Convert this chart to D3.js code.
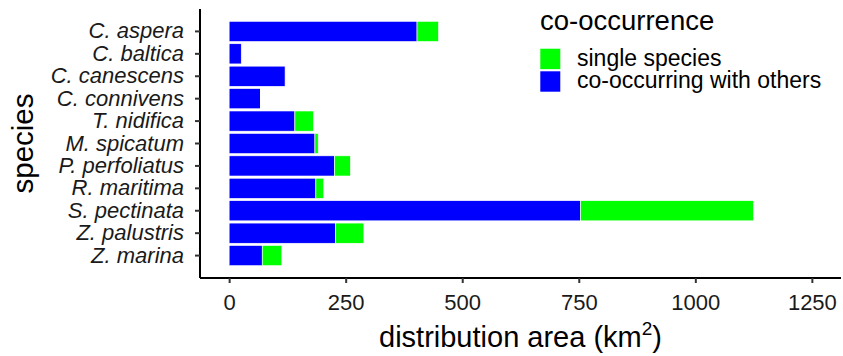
<!DOCTYPE html>
<html><head><meta charset="utf-8">
<script src="https://cdn.jsdelivr.net/npm/d3@7"></script>
<style>body{margin:0;background:#fff;} svg{display:block;}</style>
</head><body>
<svg id="c" width="843" height="356"></svg>
<script>
const species = ["C. aspera","C. baltica","C. canescens","C. connivens","T. nidifica","M. spicatum","P. perfoliatus","R. maritima","S. pectinata","Z. palustris","Z. marina"];
const coOccurring = [403, 26, 120, 67, 141, 184, 226, 186, 754, 228, 71];
const single = [46, 0, 0, 1, 40, 7, 34, 17, 371, 61, 42];
const xTicks = [0, 250, 500, 750, 1000, 1250];
const seriesNames = ["single species", "co-occurring with others"];
const seriesColors = ["#00FF00", "#0000FF"];

const FONT = "'Liberation Sans', Arial, sans-serif";
const svg = d3.select("#c");
const pLeft = 200, pRight = 841, pTop = 9, pBottom = 278;
const x = d3.scaleLinear().domain([-62.5, 1312.5]).range([pLeft, pRight]);
const y = d3.scaleBand().domain(species).range([pTop, pBottom]).paddingInner(0.1).paddingOuter(0.55);

const rows = species.map((s, i) => ({s, co: coOccurring[i], si: single[i]}));
const g = svg.append("g");
g.selectAll("rect.co").data(rows).join("rect").attr("class", "co")
  .attr("x", x(0)).attr("y", d => y(d.s)).attr("height", y.bandwidth())
  .attr("width", d => x(d.co) - x(0)).attr("fill", seriesColors[1])
  .attr("stroke", "#fff").attr("stroke-width", 0.6);
g.selectAll("rect.si").data(rows.filter(d => d.si > 0)).join("rect").attr("class", "si")
  .attr("x", d => x(d.co)).attr("y", d => y(d.s)).attr("height", y.bandwidth())
  .attr("width", d => x(d.co + d.si) - x(d.co)).attr("fill", seriesColors[0])
  .attr("stroke", "#fff").attr("stroke-width", 0.6);

// axes
const xa = svg.append("g").attr("transform", `translate(0,${pBottom})`)
  .call(d3.axisBottom(x).tickValues(xTicks).tickSize(5).tickPadding(11).tickFormat(d3.format("d")));
xa.select(".domain").attr("d", `M${pLeft},0H${pRight}`).attr("stroke", "#000").attr("stroke-width", 2);
xa.selectAll(".tick line").attr("stroke", "#333").attr("stroke-width", 2);
xa.selectAll(".tick text").attr("fill", "#1a1a1a").style("font-family", FONT).style("font-size", "22px");

const ya = svg.append("g").attr("transform", `translate(${pLeft},0)`)
  .call(d3.axisLeft(y).tickSize(5).tickPadding(11));
ya.select(".domain").attr("d", `M0,${pTop}V${pBottom}`).attr("stroke", "#000").attr("stroke-width", 2);
ya.selectAll(".tick line").attr("stroke", "#333").attr("stroke-width", 2);
ya.selectAll(".tick text").attr("fill", "#1a1a1a").style("font-family", FONT).style("font-size", "22px").style("font-style", "italic");

// axis titles
const xt = svg.append("text").attr("x", (pLeft + pRight) / 2).attr("y", 347).attr("text-anchor", "middle")
  .style("font-family", FONT).style("font-size", "29px").attr("fill", "#000");
xt.append("tspan").text("distribution area (km");
xt.append("tspan").text("2").attr("dy", -12).style("font-size", "19px");
xt.append("tspan").text(")").attr("dy", 12);

svg.append("text").attr("transform", `translate(33,${(pTop + pBottom) / 2}) rotate(-90)`).attr("text-anchor", "middle")
  .style("font-family", FONT).style("font-size", "29.5px").attr("fill", "#000").text("species");

// legend
const lg = svg.append("g");
lg.append("text").attr("x", 540).attr("y", 30).style("font-family", FONT).style("font-size", "27.5px").text("co-occurrence");
seriesNames.forEach((n, i) => {
  lg.append("rect").attr("x", 540).attr("y", 48.3 + i * 22.7).attr("width", 20.7).attr("height", 21).attr("fill", seriesColors[i]).attr("stroke", "#fff").attr("stroke-width", 0.6);
  lg.append("text").attr("x", 577).attr("y", 66 + i * 22.3).style("font-family", FONT).style("font-size", "23px").text(n);
});
</script>
</body></html>
